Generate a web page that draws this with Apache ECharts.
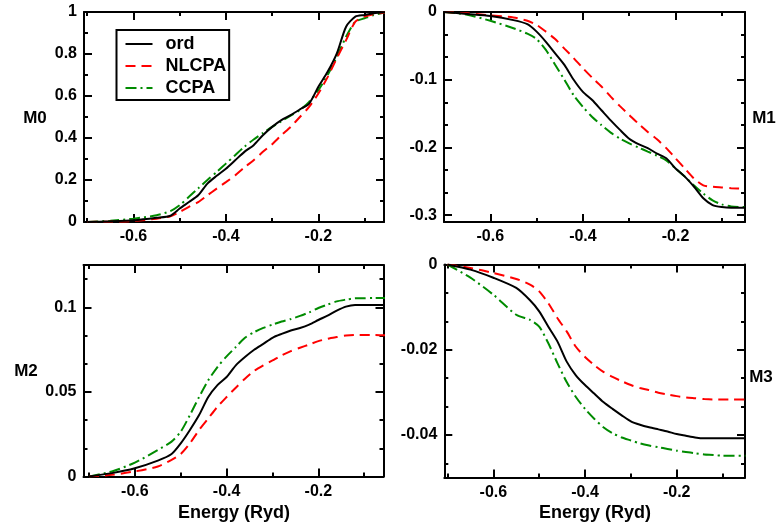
<!DOCTYPE html>
<html>
<head>
<meta charset="utf-8">
<script src="https://cdn.jsdelivr.net/npm/echarts@6/dist/echarts.min.js"></script>
<style>
html,body{margin:0;padding:0;background:#fff;}
#c{width:779px;height:526px;}
</style>
</head>
<body>
<div id="c"></div>
<script>
// ---- data ----
const energy = [-0.70,-0.65,-0.60,-0.55,-0.52,-0.50,-0.48,-0.46,-0.44,-0.42,-0.40,-0.38,-0.36,-0.34,-0.32,-0.30,-0.28,-0.26,-0.24,-0.22,-0.20,-0.18,-0.16,-0.14,-0.12,-0.10,-0.08,-0.05];

const m0Ord   = [0,0.003,0.008,0.02,0.03,0.064,0.095,0.127,0.183,0.22,0.254,0.294,0.334,0.366,0.413,0.453,0.485,0.509,0.536,0.564,0.644,0.715,0.803,0.93,0.978,0.986,0.994,1.0];
const m0Nlcpa = [0,0.002,0.005,0.016,0.027,0.048,0.072,0.095,0.127,0.159,0.19,0.222,0.26,0.294,0.334,0.37,0.413,0.453,0.5,0.548,0.612,0.69,0.78,0.866,0.954,0.978,0.99,1.0];
const m0Ccpa  = [0,0.006,0.016,0.032,0.052,0.08,0.12,0.16,0.2,0.238,0.278,0.318,0.358,0.393,0.424,0.453,0.48,0.506,0.533,0.572,0.628,0.7,0.787,0.882,0.954,0.97,0.986,1.0];

const m1Ord   = [0,-0.003,-0.006,-0.012,-0.018,-0.029,-0.044,-0.061,-0.078,-0.1,-0.118,-0.13,-0.145,-0.16,-0.174,-0.187,-0.195,-0.201,-0.209,-0.216,-0.231,-0.243,-0.258,-0.275,-0.285,-0.288,-0.289,-0.289];
const m1Nlcpa = [0,-0.002,-0.005,-0.008,-0.013,-0.019,-0.029,-0.04,-0.054,-0.068,-0.083,-0.097,-0.11,-0.125,-0.139,-0.152,-0.165,-0.177,-0.188,-0.201,-0.216,-0.231,-0.246,-0.256,-0.258,-0.259,-0.26,-0.261];
const m1Ccpa  = [0,-0.004,-0.013,-0.024,-0.032,-0.04,-0.056,-0.078,-0.1,-0.123,-0.14,-0.155,-0.167,-0.178,-0.187,-0.194,-0.2,-0.206,-0.212,-0.219,-0.231,-0.243,-0.256,-0.268,-0.278,-0.284,-0.287,-0.288];

const m2Ord   = [0,0.002,0.0049,0.0094,0.0133,0.0196,0.0275,0.0363,0.047,0.054,0.0588,0.0657,0.0706,0.0749,0.0784,0.082,0.0843,0.0863,0.0878,0.0898,0.0925,0.0951,0.098,0.1004,0.1014,0.1014,0.1014,0.1014];
const m2Nlcpa = [0,0.001,0.003,0.0059,0.0098,0.0133,0.0196,0.0275,0.0343,0.0412,0.047,0.0525,0.0578,0.0624,0.0657,0.0686,0.0716,0.0741,0.0761,0.078,0.08,0.0814,0.0824,0.0833,0.0837,0.0837,0.0836,0.0835];
const m2Ccpa  = [0,0.003,0.0082,0.0157,0.0206,0.0265,0.0363,0.047,0.0569,0.0647,0.071,0.0765,0.082,0.0853,0.0878,0.0898,0.0916,0.0931,0.0949,0.097,0.0996,0.1016,0.1035,0.1045,0.1053,0.1054,0.1055,0.1055];

const m3Ord   = [0,-0.0012,-0.0031,-0.0055,-0.0084,-0.011,-0.0146,-0.0181,-0.0228,-0.026,-0.0283,-0.0303,-0.0323,-0.0339,-0.0354,-0.0368,-0.0376,-0.0382,-0.0387,-0.0392,-0.0398,-0.0402,-0.0406,-0.0408,-0.0408,-0.0408,-0.0408,-0.0408];
const m3Nlcpa = [0,-0.0008,-0.002,-0.0034,-0.0047,-0.0063,-0.0091,-0.0126,-0.0157,-0.0193,-0.0217,-0.0236,-0.0252,-0.0264,-0.0274,-0.0283,-0.029,-0.0295,-0.0301,-0.0305,-0.0309,-0.0312,-0.0314,-0.0316,-0.0317,-0.0317,-0.0317,-0.0317];
const m3Ccpa  = [0,-0.0031,-0.0071,-0.0118,-0.013,-0.0146,-0.0185,-0.0232,-0.0276,-0.0311,-0.0339,-0.0362,-0.0382,-0.0396,-0.0406,-0.0413,-0.042,-0.0425,-0.0429,-0.0433,-0.0437,-0.044,-0.0443,-0.0446,-0.0447,-0.0449,-0.0449,-0.0449];

// tick labels
const xLabels  = [-0.6,-0.4,-0.2];
const m0Labels = [0,0.2,0.4,0.6,0.8,1];
const m1Labels = [0,-0.1,-0.2,-0.3];
const m2Labels = [0,0.05,0.1];
const m3Labels = [0,-0.02,-0.04];

const seriesNames = ['ord','NLCPA','CCPA'];
const panelTitles = ['M0','M1','M2','M3'];
const xTitle = 'Energy (Ryd)';

// ---- layout / styling ----
const FONT = 'Liberation Sans';
// tick sets: [first tick, interval] (ticks are counted from each helper axis' min)
const xTicks = {major:[-0.6,0.2], minor:[-0.7,0.1]};
const panels = [
  {grid:{left:84, top:12, width:300, height:210},        x:[-0.707,-0.058], y:[0,1],     yLab:m0Labels, yT:{major:[0,0.2],    minor:[0,0.1]},          data:[m0Ord,m0Nlcpa,m0Ccpa]},
  {grid:{left:444, top:12, width:301, height:210},       x:[-0.70,-0.05],   y:[-0.31,0], yLab:m1Labels, yT:{major:[-0.3,0.1], minor:[-0.3,0.1/3]},     data:[m1Ord,m1Nlcpa,m1Ccpa]},
  {grid:{left:83.5, top:265, width:300, height:211.5},   x:[-0.712,-0.058], y:[0,0.125], yLab:m2Labels, yT:{major:[0,0.05],   minor:[0,0.05/3]},       data:[m2Ord,m2Nlcpa,m2Ccpa]},
  {grid:{left:444.3, top:264.5, width:300.7, height:213},x:[-0.707,-0.051], y:[-0.05,0], yLab:m3Labels, yT:{major:[-0.04,0.02],minor:[-0.14/3,0.02/3]}, data:[m3Ord,m3Nlcpa,m3Ccpa]}
];

const lineStyles = [
  {color:'#000000', width:2, type:'solid'},
  {color:'#ff0000', width:2, type:[10,6]},
  {color:'#008b00', width:2, type:[11,4,2,4]}
];

const grids=[], xAxes=[], yAxes=[], series=[];

function mainAxis(gi, pos, range, labels){
  return {
    type:'value', gridIndex:gi, position:pos, min:range[0], max:range[1],
    axisLine:{show:true, onZero:false, lineStyle:{color:'#000', width:2}},
    axisTick:{show:false},
    axisLabel:{show:!!labels, customValues:labels || undefined, margin:7, color:'#000', fontFamily:FONT, fontWeight:'bold', fontSize:16},
    splitLine:{show:false}
  };
}
function tickAxis(gi, pos, min, max, interval, len){
  return {
    type:'value', gridIndex:gi, position:pos, min:min, max:max, interval:interval,
    axisLine:{show:true, onZero:false, lineStyle:{color:'rgba(0,0,0,0)', width:1}},
    axisTick:{show:true, inside:true, length:len, lineStyle:{color:'#000', width:2}},
    axisLabel:{show:false}, splitLine:{show:false}
  };
}
function hiddenAxis(gi){
  return {type:'value', gridIndex:gi, show:false, min:0, max:1};
}

panels.forEach((p, gi) => {
  grids.push(Object.assign({}, p.grid));
  const xi = xAxes.length, yi = yAxes.length;
  xAxes.push(mainAxis(gi,'bottom',p.x,xLabels));
  xAxes.push(mainAxis(gi,'top',p.x,null));
  yAxes.push(mainAxis(gi,'left',p.y,p.yLab));
  yAxes.push(mainAxis(gi,'right',p.y,null));
  p.data.forEach((vals, si) => {
    series.push({
      type:'line', name:seriesNames[si], xAxisIndex:xi, yAxisIndex:yi,
      data: energy.map((e,i)=>[e, vals[i]]),
      showSymbol:false, symbol:'none', smooth:0.25, clip:true,
      lineStyle:lineStyles[si], itemStyle:{color:lineStyles[si].color},
      z: 3 - si
    });
  });
});

// helper grids that carry the inside tick marks on all four sides
panels.forEach((p) => {
  const g = p.grid, a = p.x[0], b = p.x[1], y0 = p.y[0], y1 = p.y[1];
  const px = v => g.left + (v - a) / (b - a) * g.width;
  const py = v => g.top + (y1 - v) / (y1 - y0) * g.height;
  [['major',8],['minor',4]].forEach(([k,len]) => {
    let start = xTicks[k][0], iv = xTicks[k][1];
    let gi = grids.length;
    const L = px(start);
    grids.push({left:L, top:g.top, width:g.left + g.width - L, height:g.height});
    xAxes.push(tickAxis(gi,'bottom',start,b,iv,len));
    xAxes.push(tickAxis(gi,'top',start,b,iv,len));
    yAxes.push(hiddenAxis(gi));
    start = p.yT[k][0]; iv = p.yT[k][1];
    gi = grids.length;
    const B = py(start);
    grids.push({left:g.left, top:g.top, width:g.width, height:B - g.top});
    yAxes.push(tickAxis(gi,'left',start,y1,iv,len));
    yAxes.push(tickAxis(gi,'right',start,y1,iv,len));
    xAxes.push(hiddenAxis(gi));
  });
});

function txt(t, x, y, size){
  return {type:'text', x:x, y:y, z:100, style:{text:t, fill:'#000', fontFamily:FONT, fontWeight:'bold', fontSize:size, align:'center', verticalAlign:'middle'}};
}

const option = {
  animation:false,
  backgroundColor:'#fff',
  grid:grids, xAxis:xAxes, yAxis:yAxes, series:series,
  legend:{
    data:seriesNames, orient:'vertical', left:116.5, top:30,
    padding:[5,3,3,8], itemWidth:27, itemHeight:14, itemGap:4,
    borderColor:'#000', borderWidth:2, borderRadius:0, backgroundColor:'#fff',
    itemStyle:{opacity:0, borderWidth:0},
    textStyle:{fontFamily:FONT, fontWeight:'bold', fontSize:18, color:'#000', padding:[0,0,0,8]},
    selectedMode:false
  },
  graphic:[
    txt(panelTitles[0], 35, 118, 17),
    txt(panelTitles[1], 764, 118, 17),
    txt(panelTitles[2], 26, 371, 17),
    txt(panelTitles[3], 761, 377, 17),
    txt(xTitle, 234, 513, 18),
    txt(xTitle, 595, 513, 18)
  ]
};

const chart = echarts.init(document.getElementById('c'), null, {renderer:'canvas'});
chart.setOption(option);
</script>
</body>
</html>
